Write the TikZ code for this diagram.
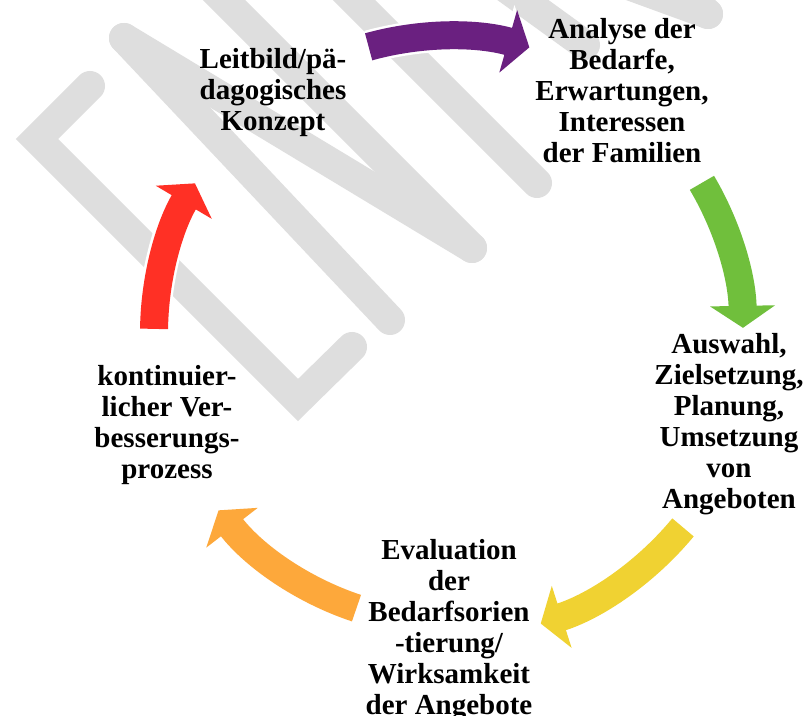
\documentclass[tikz,border=0pt]{standalone}
\usepackage{fontspec}
\setmainfont{Liberation Serif}
\usepackage{xcolor}
\usepackage{tikz}
\usetikzlibrary{arrows.meta, positioning, calc}
\definecolor{cycpurple}{RGB}{106,32,128}
\definecolor{cycgreen}{RGB}{112,191,60}
\definecolor{cycyellow}{RGB}{240,210,50}
\definecolor{cycorange}{RGB}{253,168,59}
\definecolor{cycred}{RGB}{255,48,37}
\definecolor{wmgray}{RGB}{222,222,222}
\tikzstyle{stage} = [align=center, inner sep=0pt, anchor=north, font=\bfseries\fontsize{29}{31}\selectfont]
\tikzstyle{cyclearrow} = [line width=28pt, -{Triangle[width=64pt,length=22pt]}, preaction={draw=white, line width=33pt, -{Triangle[width=72pt,length=26pt]}}]
\tikzstyle{watermark} = [draw=wmgray, line width=30pt, line cap=round, line join=round]

\begin{document}
\begin{tikzpicture}[x=1pt, y=1pt]
\fill[white] (0,0) rectangle (805,715);
\useasboundingbox (0,0) rectangle (805,715);

% watermark letters in the background
\draw[watermark, line join=miter] (90,629) -- (37,576) -- (298,315) -- (352,368);
\draw[watermark] (390,395) -- (124,677);
\draw[watermark] (124,677) -- (472,467);
\draw[watermark] (472,467) -- (200,739);
\draw[watermark] (537,532) -- (330,739);
\draw[watermark] (440,775) -- (585,670);
\draw[watermark] (560,755) -- (708,701);
\draw[watermark] (708,701) -- (660,749);

% cycle arrows
\coordinate (centre) at (448,382);
\path (centre) ++(179.2:294) coordinate (redtail);
\path (centre) ++(105.5:297) coordinate (purpletail);
\path (centre) ++(30.6:295) coordinate (greentail);
\path (centre) ++(-39.6:305) coordinate (yellowtail);
\path (centre) ++(-108.4:290) coordinate (orangetail);
\draw[cyclearrow, cycred] (redtail) arc[start angle=179.2, end angle=149.4, radius=294];
\draw[cyclearrow, cycpurple] (purpletail) arc[start angle=105.5, end angle=74.1, radius=297];
\draw[cyclearrow, cycgreen] (greentail) arc[start angle=30.6, end angle=1, radius=295];
\draw[cyclearrow, cycyellow] (yellowtail) arc[start angle=-39.6, end angle=-72.3, radius=305];
\draw[cyclearrow, cycorange] (orangetail) arc[start angle=-108.4, end angle=-142.3, radius=290];

% stages
\node[stage] (leitbild) at (273,667) {Leitbild/pä-\\dagogisches\\Konzept};
\node[stage] (analyse) at (622,697) {Analyse der\\Bedarfe,\\Erwartungen,\\Interessen\\der Familien};
\node[stage] (auswahl) at (729,382) {Auswahl,\\Zielsetzung,\\Planung,\\Umsetzung\\von\\Angeboten};
\node[stage] (evaluation) at (449,176) {Evaluation\\der\\Bedarfsorien\\-tierung/\\Wirksamkeit\\der Angebote};
\node[stage] (verbesserung) at (167,350) {kontinuier-\\licher Ver-\\besserungs-\\prozess};
\end{tikzpicture}
\end{document}
